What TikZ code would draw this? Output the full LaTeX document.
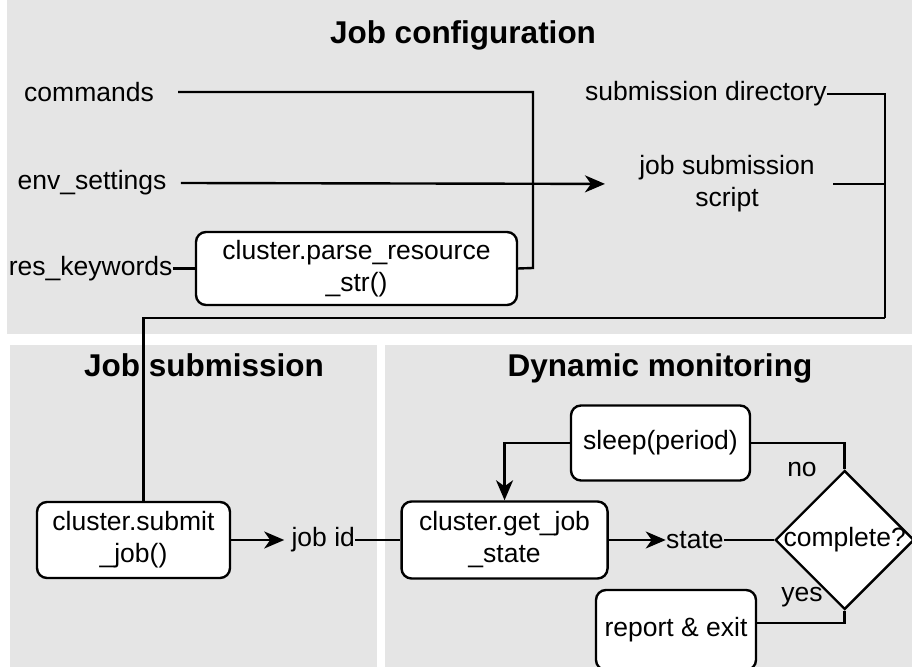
\documentclass[tikz,border=0pt]{standalone}
\usepackage{fontspec}
\setmainfont{Liberation Sans}
\usetikzlibrary{shapes.geometric, arrows.meta, positioning, calc}
\definecolor{panelgray}{RGB}{229,229,229}
\tikzset{
    base/.style = {font=\fontsize{13.25}{16}\selectfont},
    % Components
    box/.style      = {base, draw=black, line width=1.2pt, rectangle, rounded corners=5pt, fill=white, align=center, inner sep=2pt},
    decision/.style = {base, draw=black, line width=1.2pt, diamond, aspect=1, fill=white, inner sep=-1pt},
    lbl/.style      = {base, inner sep=0pt, align=center},
    paneltitle/.style = {font=\fontsize{15.75}{19}\selectfont\bfseries},
    panelbg/.style  = {fill=panelgray},
    % Edges
    link/.style  = {line width=1.2pt},
    arrow/.style = {line width=1.2pt, -{Stealth[length=10pt, width=8.5pt, inset=3pt]}}
}
\begin{document}
\begin{tikzpicture}[x=0.5pt, y=-0.5pt]
    \useasboundingbox (0,0) rectangle (912,667);
    % Panels
    \fill [panelbg] (7,0) rectangle (912,334);
    \fill [panelbg] (10,345) rectangle (377,667);
    \fill [panelbg] (385,345) rectangle (912,667);

    \node (cfgtitle) [paneltitle] at (463,35) {Job configuration};
    \node (subtitle) [paneltitle] at (204,365) {Job submission};
    \node (montitle) [paneltitle] at (660,368) {Dynamic monitoring};

    % Job configuration
    \node (commands) [lbl, inner xsep=12pt] at (89,92) {commands};
    \node (envset) [lbl, inner xsep=7pt] at (92,183) {env\_settings};
    \node (parse) [box, minimum width=160.5pt, minimum height=36.5pt] at (356.5,268.5) {cluster.parse\_resource\\\_str()};
    \node (reskw) [lbl, left=11pt of parse] {res\_keywords};
    \node (subdir) [lbl] at (706,94) {submission directory};
    \node (script) [lbl] at (727,184) {job submission\\script};

    \coordinate (cmdjoin) at (533,268);
    \coordinate (cfgout) at (885,318);

    % Job submission
    \node (submit) [box, minimum width=96.5pt, minimum height=38pt] at (133.5,540) {cluster.submit\\\_job()};
    \node (jobid) [lbl, right=30pt of submit] {job id};

    % Dynamic monitoring
    \node (getjob) [box, right=22.5pt of jobid, minimum width=103pt, minimum height=38.5pt] {cluster.get\_job\\\_state};
    \node (state) [lbl, right=28.5pt of getjob] {state};
    \node (complete) [decision, right=25pt of state] {complete?};
    \node (sleep) [box, minimum width=89.5pt, minimum height=37.5pt] at (660.5,443) {sleep(period)};
    \node (report) [box, minimum width=80pt, minimum height=40pt] at (676,630) {report \& exit};
    \node (nolbl) [lbl] at (802,470) {no};
    \node (yeslbl) [lbl] at (802,597) {yes};

    \draw [link] (commands.east) -| (cmdjoin) -- (parse.east);
    \draw [arrow, shorten >=17pt] (envset.east) -- (script.west);
    \draw [link] (reskw) -- (parse);
    \draw [link] (subdir.east) -| (cfgout);
    \draw [link] ([xshift=9pt]script.east) -- (script.east -| cfgout);
    \draw [link] (cfgout) -| ([xshift=5pt]submit.north);

    \draw [arrow, shorten >=3.5pt] (submit) -- (jobid);
    \draw [link] (jobid) -- (getjob);
    \draw [arrow] (getjob) -- (state);
    \draw [link] (state) -- (complete);
    \draw [link] (complete.north) |- (sleep.east);
    \draw [arrow] (sleep.west) -| (getjob.north);
    \draw [link] (complete.south) |- ([yshift=3.5pt]report.east);
\end{tikzpicture}
\end{document}
